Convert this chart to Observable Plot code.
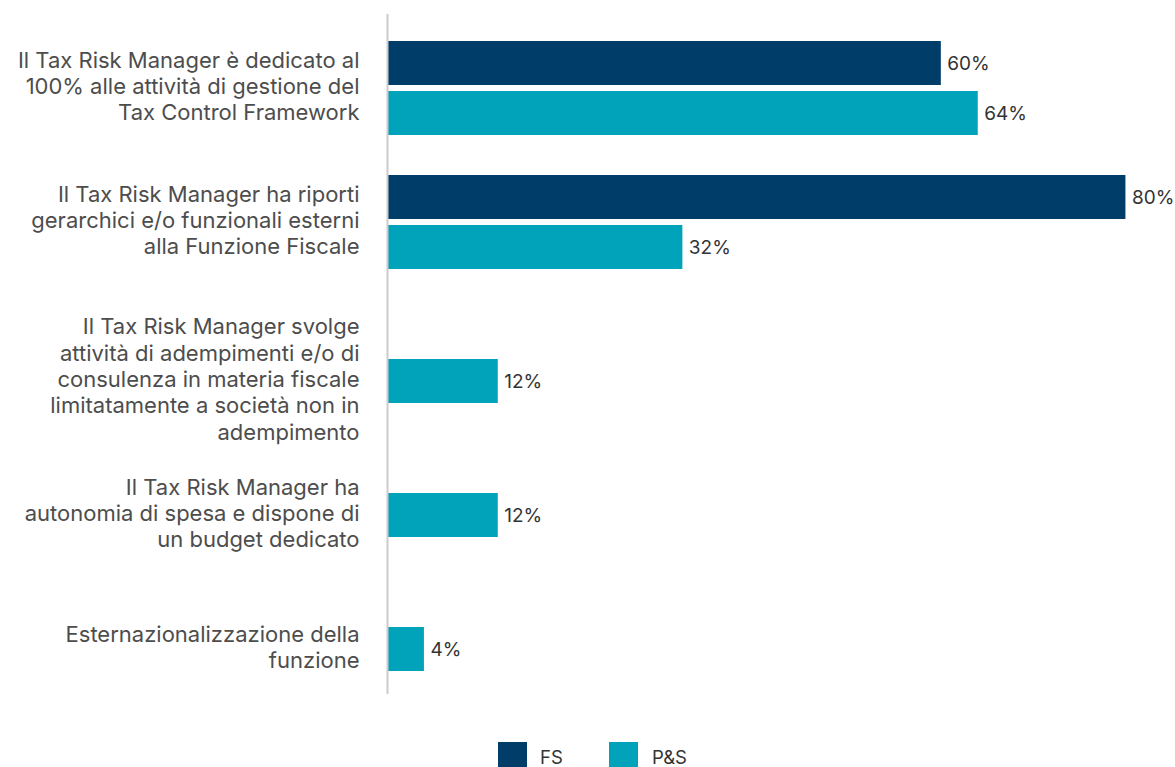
<!DOCTYPE html>
<html>
<head>
<meta charset="utf-8">
<script src="https://cdn.jsdelivr.net/npm/d3@7"></script>
<script src="https://cdn.jsdelivr.net/npm/@observablehq/plot@0.6"></script>
<style>
  html, body { margin: 0; padding: 0; background: #fff; overflow: hidden; }
  body { font-family: Inter, "Noto Sans", sans-serif; width: 1175px; height: 767px; position: relative; }
  #chart { position: absolute; left: 0; top: 0; }
  .lg-sw { position: absolute; width: 29px; height: 28px; }
  .lg-tx { position: absolute; font-size: 18.5px; line-height: 1; color: #333; }
</style>
</head>
<body>
<div id="chart"></div>
<div id="legend"></div>
<script>
const categories = [
  "Il Tax Risk Manager è dedicato al\n100% alle attività di gestione del\nTax Control Framework",
  "Il Tax Risk Manager ha riporti\ngerarchici e/o funzionali esterni\nalla Funzione Fiscale",
  "Il Tax Risk Manager svolge\nattività di adempimenti e/o di\nconsulenza in materia fiscale\nlimitatamente a società non in\nadempimento",
  "Il Tax Risk Manager ha\nautonomia di spesa e dispone di\nun budget dedicato",
  "Esternazionalizzazione della\nfunzione"
];
const seriesNames = ["FS", "P&S"];
const fsValues = [60, 80, null, null, null];
const psValues = [64, 32, 12, 12, 4];
const colors = ["#003e69", "#00a3b9"];

const fsData = categories.map((c, i) => ({cat: c, value: fsValues[i]})).filter(d => d.value != null);
const psData = categories.map((c, i) => ({cat: c, value: psValues[i]})).filter(d => d.value != null);
const bothCats = categories.filter((c, i) => fsValues[i] != null && psValues[i] != null);
const psOnlyCats = categories.filter((c, i) => fsValues[i] == null);

const labelStyle = {
  frameAnchor: "left", textAnchor: "end", dx: -28,
  fontSize: 22, lineHeight: 1.2, fill: "#4d4d4d", fontFamily: "Inter"
};
const valStyle = {
  textAnchor: "start", dx: 6, fontSize: 19, fill: "#333", fontFamily: "Inter"
};

const plot = Plot.plot({
  width: 1175,
  height: 700,
  marginLeft: 387,
  marginRight: 0,
  marginTop: 14,
  marginBottom: 6,
  style: {fontFamily: "Inter", overflow: "visible", background: "#fff"},
  x: {domain: [0, 85.37], axis: null},
  y: {domain: categories, padding: 0, insetTop: 7, insetBottom: 3, axis: null},
  marks: [
    Plot.barX(fsData, {x: "value", y: "cat", fill: colors[0], insetTop: 20, insetBottom: 70}),
    Plot.barX(psData, {x: "value", y: "cat", fill: colors[1], insetTop: 70, insetBottom: 20}),
    Plot.text(fsData, {x: "value", y: "cat", text: d => d.value + "%", dy: -25, ...valStyle}),
    Plot.text(psData, {x: "value", y: "cat", text: d => d.value + "%", dy: 25, ...valStyle}),
    Plot.text(bothCats, {y: d => d, text: d => d, dy: -3, ...labelStyle}),
    Plot.text(psOnlyCats, {y: d => d, text: d => d, dy: 22, ...labelStyle}),
    Plot.ruleX([0], {stroke: "#cccccc", strokeWidth: 2})
  ]
});
document.getElementById("chart").appendChild(plot);

// Legend below the chart
const legend = document.getElementById("legend");
const lgPos = [{sw: 498, tx: 540}, {sw: 609, tx: 652}];
seriesNames.forEach((name, i) => {
  const sw = document.createElement("div");
  sw.className = "lg-sw";
  sw.style.left = lgPos[i].sw + "px";
  sw.style.top = "742px";
  sw.style.background = colors[i];
  legend.appendChild(sw);
  const tx = document.createElement("div");
  tx.className = "lg-tx";
  tx.style.left = lgPos[i].tx + "px";
  tx.style.top = "748px";
  tx.textContent = name;
  legend.appendChild(tx);
});
</script>
</body>
</html>
